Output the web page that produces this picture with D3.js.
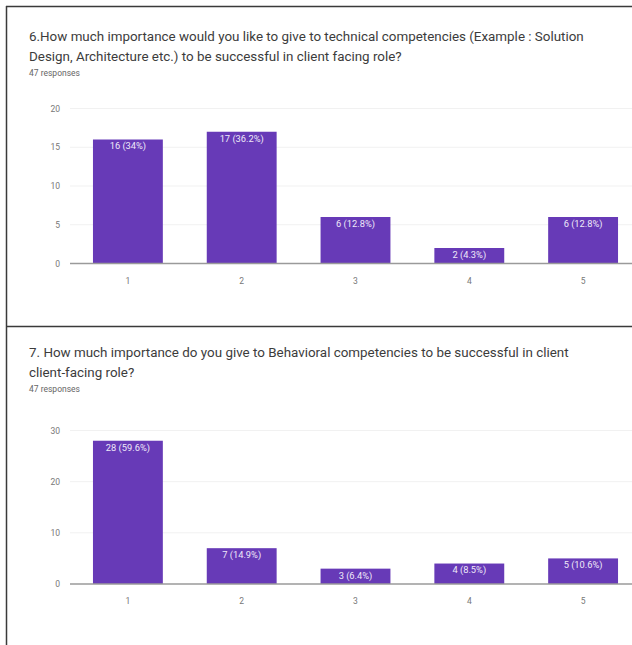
<!DOCTYPE html>
<html>
<head>
<meta charset="utf-8">
<script src="https://cdn.jsdelivr.net/npm/d3@7"></script>
<style>
  html, body { margin: 0; padding: 0; background: #fff; }
  svg { display: block; }
</style>
</head>
<body>
<svg id="chart" width="632" height="645"></svg>
<script>
// ---- data ----
const categories = ["1", "2", "3", "4", "5"];
const q6Values = [16, 17, 6, 2, 6];
const q6Labels = ["16 (34%)", "17 (36.2%)", "6 (12.8%)", "2 (4.3%)", "6 (12.8%)"];
const q6Ticks = [0, 5, 10, 15, 20];
const q7Values = [28, 7, 3, 4, 5];
const q7Labels = ["28 (59.6%)", "7 (14.9%)", "3 (6.4%)", "4 (8.5%)", "5 (10.6%)"];
const q7Ticks = [0, 10, 20, 30];
const q6Title = ["6.How much importance would you like to give to technical competencies (Example : Solution",
                 "Design, Architecture etc.) to be successful in client facing role?"];
const q7Title = ["7. How much importance do you give to Behavioral competencies to be successful in client",
                 "client-facing role?"];
const responsesText = "47 responses";

const svg = d3.select("#chart");
const FONT = "Roboto, 'Noto Sans', Arial, sans-serif";
const PURPLE = "#673ab7";

// frame
svg.append("line").attr("x1", 6).attr("x2", 632).attr("y1", 6.5).attr("y2", 6.5)
  .attr("stroke", "#3a3a3a").attr("stroke-width", 1.5);
svg.append("line").attr("x1", 6.5).attr("x2", 6.5).attr("y1", 6).attr("y2", 645)
  .attr("stroke", "#3a3a3a").attr("stroke-width", 1.5);
svg.append("line").attr("x1", 6).attr("x2", 632).attr("y1", 326.5).attr("y2", 326.5)
  .attr("stroke", "#3a3a3a").attr("stroke-width", 1.5);

const x = d3.scaleBand().domain(categories).range([71, 640])
  .paddingInner(0.386).paddingOuter(0.193);

function panel(cfg) {
  const g = svg.append("g");
  // title
  cfg.title.forEach((t, i) => {
    g.append("text").attr("x", 29).attr("y", cfg.titleY + i * 20.5)
      .attr("font-family", FONT).attr("font-size", 13.4).attr("fill", "#3c3c3c")
      .attr("dominant-baseline", "middle").text(t);
  });
  g.append("text").attr("x", 29).attr("y", cfg.respY)
    .attr("font-family", FONT).attr("font-size", 8.5).attr("fill", "#666")
    .attr("dominant-baseline", "middle").text(responsesText);

  const y = d3.scaleLinear().domain(cfg.domain).range(cfg.yRange);

  // gridlines
  g.selectAll(".grid").data(cfg.ticks.filter(d => d !== 0)).join("line")
    .attr("x1", 70).attr("x2", 632)
    .attr("y1", d => y(d)).attr("y2", d => y(d))
    .attr("stroke", "#f1f1f1").attr("stroke-width", 1);

  // y axis labels
  const yAxis = d3.axisLeft(y).tickValues(cfg.ticks).tickSize(0).tickPadding(0);
  const ya = g.append("g").attr("transform", "translate(60,0)").call(yAxis);
  ya.select(".domain").remove();
  ya.selectAll("text").attr("font-family", FONT).attr("font-size", 8.5).attr("fill", "#777");

  // bars
  g.selectAll(".bar").data(cfg.values).join("rect")
    .attr("x", (d, i) => x(categories[i])).attr("width", x.bandwidth())
    .attr("y", d => y(d)).attr("height", d => y(0) - y(d))
    .attr("fill", PURPLE);

  // bar labels
  g.selectAll(".blab").data(cfg.values).join("text")
    .attr("x", (d, i) => x(categories[i]) + x.bandwidth() / 2)
    .attr("y", d => y(d) + 7.5)
    .attr("text-anchor", "middle").attr("dominant-baseline", "middle")
    .attr("font-family", FONT).attr("font-size", 9.3).attr("fill", "#efe9f9")
    .text((d, i) => cfg.labels[i]);

  // baseline
  g.append("line").attr("x1", 70).attr("x2", 632)
    .attr("y1", y(0)).attr("y2", y(0))
    .attr("stroke", "#9a9a9a").attr("stroke-width", 1.5);

  // x axis labels
  const xAxis = d3.axisBottom(x).tickSize(0).tickPadding(0);
  const xa = g.append("g").attr("transform", `translate(0,${y(0) + 14})`).call(xAxis);
  xa.select(".domain").remove();
  xa.selectAll("text").attr("font-family", FONT).attr("font-size", 8.5).attr("fill", "#777");
}

panel({ title: q6Title, titleY: 37, respY: 74, domain: [0, 20], yRange: [263.5, 108.5],
        ticks: q6Ticks, values: q6Values, labels: q6Labels });
panel({ title: q7Title, titleY: 353, respY: 390, domain: [0, 30], yRange: [584, 430.5],
        ticks: q7Ticks, values: q7Values, labels: q7Labels });
</script>
</body>
</html>
